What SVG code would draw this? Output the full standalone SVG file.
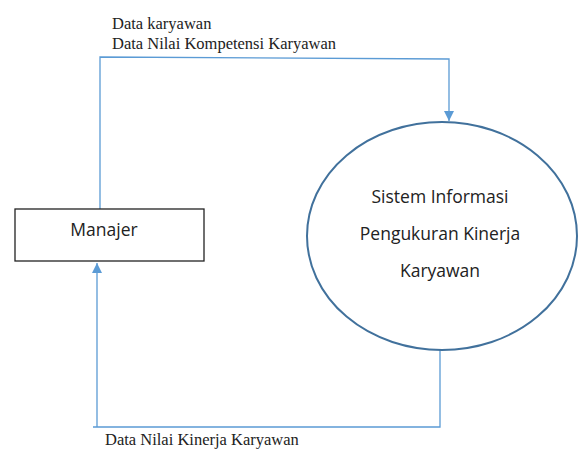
<svg xmlns="http://www.w3.org/2000/svg" width="578" height="466" viewBox="0 0 578 466">
<style>
.conn{fill:none;stroke:#5B9BD5;stroke-width:1.3}
.lbl{font-family:"Liberation Serif",serif;font-size:16.5px;fill:#222}
.nt{font-family:"Open Sans","Noto Sans",sans-serif;font-size:17.5px;fill:#222;text-anchor:middle}
</style>
<defs>
<marker id="ah" viewBox="0 0 10 10" refX="10" refY="5" markerWidth="10" markerHeight="10" markerUnits="userSpaceOnUse" orient="auto">
<path d="M0,0 L10,5 L0,10 z" fill="#5B9BD5"/>
</marker>
</defs>
<g id="connectors">
<path class="conn" d="M100,209 L100,57 L449,59 L449,121" marker-end="url(#ah)"/>
<path class="conn" d="M440,350 L440,427 L93,427 M97,427 L97,263" marker-end="url(#ah)"/>
</g>
<g id="labels">
<text class="lbl" x="112" y="29">Data karyawan</text>
<text class="lbl" x="112" y="49">Data Nilai Kompetensi Karyawan</text>
<text class="lbl" x="105" y="445">Data Nilai Kinerja Karyawan</text>
</g>
<g id="manajer">
<rect x="15" y="209" width="189" height="52" fill="#fff" stroke="#222" stroke-width="1.3"/>
<text class="nt" x="104" y="236">Manajer</text>
</g>
<g id="sistem">
<ellipse cx="442" cy="236" rx="135" ry="114" fill="#fff" stroke="#41719C" stroke-width="2"/>
<text class="nt" x="440" y="203">Sistem Informasi</text>
<text class="nt" x="440" y="240">Pengukuran Kinerja</text>
<text class="nt" x="440" y="277">Karyawan</text>
</g>
</svg>
